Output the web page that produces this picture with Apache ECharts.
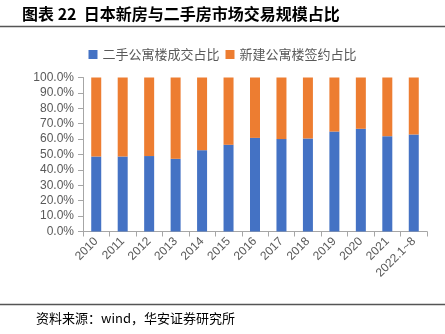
<!DOCTYPE html>
<html><head><meta charset="utf-8">
<script src="https://cdn.jsdelivr.net/npm/echarts@6/dist/echarts.min.js"></script>
<style>html,body{margin:0;padding:0;background:#fff}#c{width:445px;height:334px}</style>
</head><body><div id="c"></div>
<script>
var categories = ['2010','2011','2012','2013','2014','2015','2016','2017','2018','2019','2020','2021','2022.1~8'];
var secondHand = [48.7, 48.7, 49.0, 47.2, 52.8, 56.3, 60.8, 60.0, 60.4, 64.9, 66.7, 61.9, 63.0];
var newBuild = secondHand.map(function(v){ return +(100 - v).toFixed(1); });
var seriesNames = ['二手公寓楼成交占比','新建公寓楼签约占比'];
var titleText = '图表 22  日本新房与二手房市场交易规模占比';
var sourceText = '资料来源：wind，华安证券研究所';

var chart = echarts.init(document.getElementById('c'));
var font = '"Liberation Sans", Arial, "Noto Sans CJK SC", sans-serif';
chart.setOption({
  animation:false,
  textStyle:{fontFamily:font},
  graphic:[
    {type:'text', left:22, top:6, style:{text:titleText, font:'bold 16px "Noto Sans CJK SC", sans-serif', fill:'#000'}},
    {type:'line', shape:{x1:0,y1:26.5,x2:445,y2:26.5}, style:{stroke:'#555', lineWidth:1.3}},
    {type:'line', shape:{x1:0,y1:304.5,x2:445,y2:304.5}, style:{stroke:'#555', lineWidth:1.3}},
    {type:'text', left:36, top:312, style:{text:sourceText, font:'13px "Noto Sans CJK SC", sans-serif', fill:'#000'}}
  ],
  legend:{
    top:43, left:'center', itemWidth:9, itemHeight:9, itemGap:6,
    textStyle:{color:'#595959', fontSize:13, fontFamily:'"Noto Sans CJK SC", sans-serif'},
    data:[{name:seriesNames[0], icon:'rect'},{name:seriesNames[1], icon:'rect'}]
  },
  grid:{left:83, right:18, top:77.5, bottom:102.5, containLabel:false},
  xAxis:{
    type:'category', data:categories, boundaryGap:true,
    axisLine:{lineStyle:{color:'#a6a6a6'}},
    axisTick:{show:true, alignWithLabel:false, length:5, lineStyle:{color:'#a6a6a6'}},
    axisLabel:{rotate:45, color:'#595959', fontSize:12, margin:8, interval:0}
  },
  yAxis:{
    type:'value', min:0, max:100, interval:10,
    splitLine:{show:false},
    axisLine:{show:true, lineStyle:{color:'#a6a6a6'}},
    axisTick:{show:true, length:5, lineStyle:{color:'#a6a6a6'}},
    axisLabel:{color:'#595959', fontSize:12, margin:9, formatter:function(v){return v.toFixed(1)+'%';}}
  },
  series:[
    {name:seriesNames[0], type:'bar', stack:'a', data:secondHand, barWidth:10, itemStyle:{color:'#4472C4'}},
    {name:seriesNames[1], type:'bar', stack:'a', data:newBuild, barWidth:10, itemStyle:{color:'#ED7D31'}}
  ]
});
</script></body></html>
